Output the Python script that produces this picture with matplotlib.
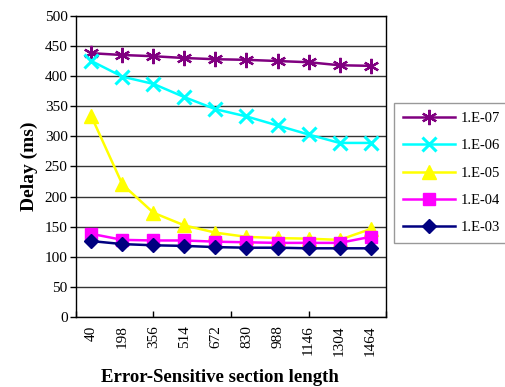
import numpy as np
import matplotlib
matplotlib.use("Agg")
import matplotlib.pyplot as plt

plt.rcParams["font.family"] = ["Liberation Serif", "DejaVu Serif"]

section_lengths = ["40", "198", "356", "514", "672", "830", "988", "1146", "1304", "1464"]

delay_1e7 = [438, 435, 433, 430, 428, 427, 425, 423, 418, 417]
delay_1e6 = [425, 399, 387, 365, 345, 333, 318, 303, 289, 289]
delay_1e5 = [333, 220, 173, 152, 140, 133, 131, 130, 128, 146]
delay_1e4 = [138, 128, 127, 127, 125, 124, 123, 123, 123, 133]
delay_1e3 = [126, 121, 119, 118, 116, 115, 115, 114, 114, 114]

series = [
    ("1.E-07", delay_1e7, "#800080", (6, 2, 0), 11, 1.6),
    ("1.E-06", delay_1e6, "#00FFFF", "x", 10, 2.2),
    ("1.E-05", delay_1e5, "#FFFF00", "^", 10, 1.0),
    ("1.E-04", delay_1e4, "#FF00FF", "s", 8, 1.0),
    ("1.E-03", delay_1e3, "#000080", "D", 7, 1.0),
]

fig = plt.figure(figsize=(5.06, 3.87), dpi=100)
ax = fig.add_axes([0.150, 0.181, 0.613, 0.778])

x = np.arange(len(section_lengths))
for label, vals, color, marker, ms, mew in series:
    ax.plot(x, vals, color=color, lw=1.8, marker=marker, markersize=ms,
            markeredgewidth=mew, markerfacecolor=color, markeredgecolor=color,
            label=label, clip_on=False)

ax.set_xlim(-0.5, len(section_lengths) - 0.5)
ax.set_ylim(0, 500)
ax.set_yticks(np.arange(0, 501, 50))
ax.yaxis.grid(True, color="#333333", lw=1)
ax.set_axisbelow(True)

# category labels centred, tick marks every 2.5 categories
ax.set_xticks(x)
ax.set_xticklabels(section_lengths, rotation=90)
ax.set_xticks(np.arange(-0.5, len(section_lengths), 2.5), minor=True)
ax.xaxis.remove_overlapping_locs = False
ax.tick_params(axis="x", which="major", length=0, pad=6, labelsize=11)
ax.tick_params(axis="x", which="minor", direction="in", length=4, width=1)
ax.tick_params(axis="y", direction="out", length=4, width=1, labelsize=11, pad=2)

for s in ax.spines.values():
    s.set_color("black")
    s.set_linewidth(1)

ax.set_ylabel("Delay (ms)", fontsize=14, fontweight="bold", labelpad=5)
ax.set_xlabel("Error-Sensitive section length", fontsize=13.5, fontweight="bold",
              va="baseline")
ax.xaxis.set_label_coords(0.465, -(382 - 317) / 301)

leg = fig.legend(loc="upper left", bbox_to_anchor=(394 / 506, 1 - 103 / 387),
                 fontsize=10.5, frameon=True, fancybox=False, edgecolor="#808080",
                 handlelength=3.6, handletextpad=0.35, labelspacing=0.97,
                 borderpad=0.6, borderaxespad=0)
leg.get_frame().set_linewidth(1)

fig.savefig("out.png", dpi=100)
